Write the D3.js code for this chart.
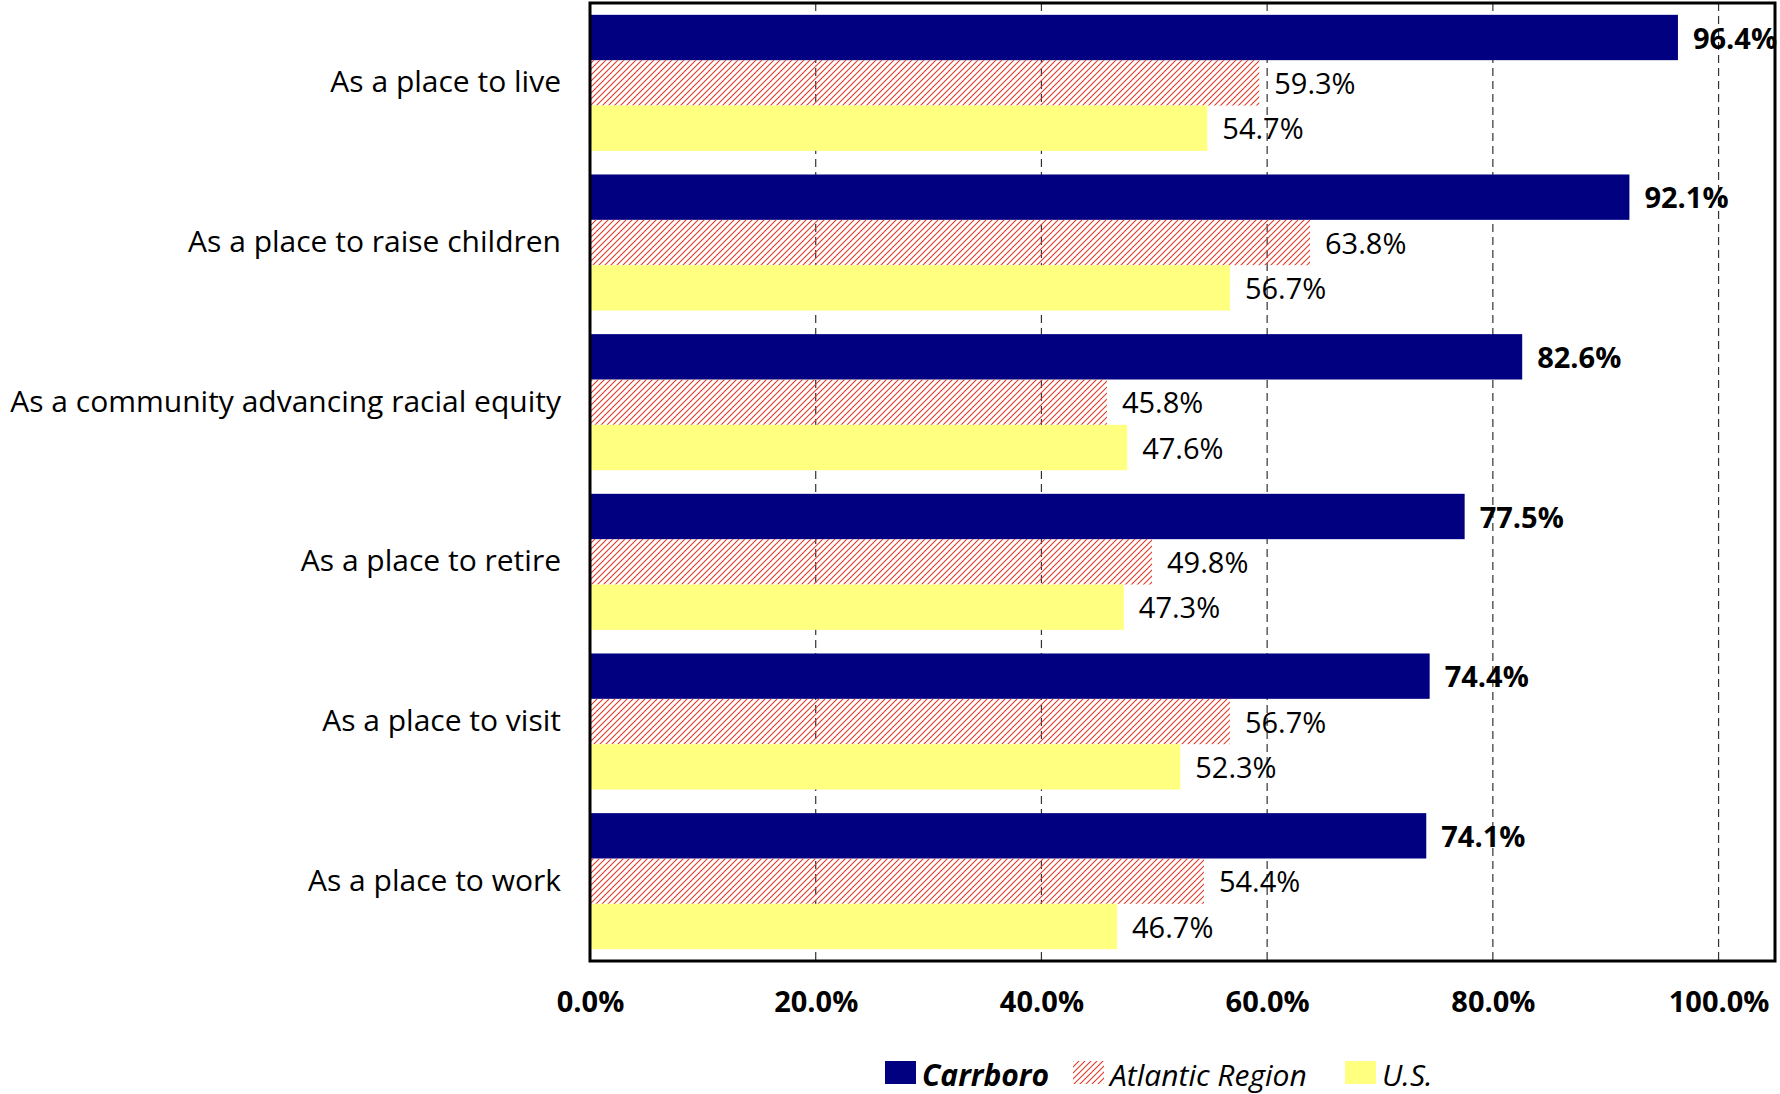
<!DOCTYPE html>
<html>
<head>
<meta charset="utf-8">
<script src="https://cdn.jsdelivr.net/npm/d3@7"></script>
<style>
  body { margin: 0; background: #fff; }
  svg { display: block; font-family: "Open Sans", "Noto Sans", sans-serif; }
</style>
</head>
<body>
<div id="chart"></div>
<script>
// data
var categories = ["As a place to live", "As a place to raise children", "As a community advancing racial equity",
                  "As a place to retire", "As a place to visit", "As a place to work"];
var seriesNames = ["Carrboro", "Atlantic Region", "U.S."];
var carrboro = [96.4, 92.1, 82.6, 77.5, 74.4, 74.1];
var atlantic = [59.3, 63.8, 45.8, 49.8, 56.7, 54.4];
var us = [54.7, 56.7, 47.6, 47.3, 52.3, 46.7];
var tickValues = [0, 20, 40, 60, 80, 100];

var W = 1780, H = 1094;
var plot = {left: 590, top: 3, right: 1775, bottom: 961};
var fontSize = 29;
var catFontSize = 30;

var svg = d3.select("#chart").append("svg")
  .attr("width", W)
  .attr("height", H);

// hatch pattern for Atlantic Region
var defs = svg.append("defs");
var pat = defs.append("pattern")
  .attr("id", "hatch")
  .attr("patternUnits", "userSpaceOnUse")
  .attr("width", 6)
  .attr("height", 6);
pat.append("path")
  .attr("d", "M-1,1 l2,-2 M0,6 l6,-6 M5,7 l2,-2")
  .attr("stroke", "#e03c28")
  .attr("stroke-width", 1.1);

var x = d3.scaleLinear()
  .domain([0, 105])
  .range([plot.left, plot.right]);

var y = d3.scaleBand()
  .domain(categories)
  .range([plot.top, plot.bottom])
  .paddingInner(0.148)
  .paddingOuter(0.074);

var ySub = d3.scaleBand()
  .domain(seriesNames)
  .range([0, y.bandwidth()]);

var fills = {"Carrboro": "#000080", "Atlantic Region": "url(#hatch)", "U.S.": "#ffff80"};
var values = {"Carrboro": carrboro, "Atlantic Region": atlantic, "U.S.": us};

// dashed gridlines
svg.append("g")
  .selectAll("line")
  .data(tickValues.slice(1))
  .join("line")
    .attr("x1", function(d) { return x(d); })
    .attr("x2", function(d) { return x(d); })
    .attr("y1", plot.top)
    .attr("y2", plot.bottom)
    .attr("stroke", "#333")
    .attr("stroke-width", 1.2)
    .attr("stroke-dasharray", "8 5");

// bars
seriesNames.forEach(function(s) {
  svg.append("g")
    .selectAll("rect")
    .data(categories)
    .join("rect")
      .attr("x", x(0))
      .attr("y", function(d) { return y(d) + ySub(s); })
      .attr("width", function(d, i) { return x(values[s][i]) - x(0); })
      .attr("height", ySub.bandwidth())
      .attr("fill", fills[s]);
});

// value labels
seriesNames.forEach(function(s) {
  svg.append("g")
    .selectAll("text")
    .data(categories)
    .join("text")
      .attr("x", function(d, i) { return x(values[s][i]) + 15; })
      .attr("y", function(d) { return y(d) + ySub(s) + ySub.bandwidth() / 2 + 1; })
      .attr("dy", "0.35em")
      .attr("font-size", fontSize)
      .attr("font-weight", s == "Carrboro" ? "bold" : "normal")
      .attr("fill", "#000")
      .text(function(d, i) { return values[s][i].toFixed(1) + "%"; });
});

// frame
svg.append("rect")
  .attr("x", plot.left)
  .attr("y", plot.top)
  .attr("width", plot.right - plot.left)
  .attr("height", plot.bottom - plot.top)
  .attr("fill", "none")
  .attr("stroke", "#000")
  .attr("stroke-width", 3);

// category axis
var yAxis = svg.append("g")
  .attr("transform", "translate(" + (plot.left - 29) + ",0)")
  .call(d3.axisLeft(y).tickSize(0).tickPadding(0));
yAxis.select(".domain").remove();
yAxis.selectAll(".tick text")
  .attr("font-size", catFontSize)
  .attr("font-family", "'Open Sans', 'Noto Sans', sans-serif")
  .attr("fill", "#000");

// value axis labels
var xAxis = svg.append("g")
  .attr("transform", "translate(0," + plot.bottom + ")")
  .call(d3.axisBottom(x).tickValues(tickValues).tickSize(0).tickPadding(30)
    .tickFormat(function(d) { return d.toFixed(1) + "%"; }));
xAxis.select(".domain").remove();
xAxis.selectAll(".tick text")
  .attr("font-size", fontSize)
  .attr("font-weight", "bold")
  .attr("font-family", "'Open Sans', 'Noto Sans', sans-serif")
  .attr("fill", "#000");

// legend
var legendX = [885, 1073, 1345];
var legend = svg.append("g");
seriesNames.forEach(function(s, i) {
  var g = legend.append("g").attr("transform", "translate(" + legendX[i] + ",1061)");
  g.append("rect")
    .attr("width", 31)
    .attr("height", 23)
    .attr("fill", fills[s]);
  g.append("text")
    .attr("x", 37)
    .attr("y", 14)
    .attr("dy", "0.35em")
    .attr("font-size", 30)
    .attr("font-style", "italic")
    .attr("font-weight", i == 0 ? "bold" : "normal")
    .text(s);
});
</script>
</body>
</html>
